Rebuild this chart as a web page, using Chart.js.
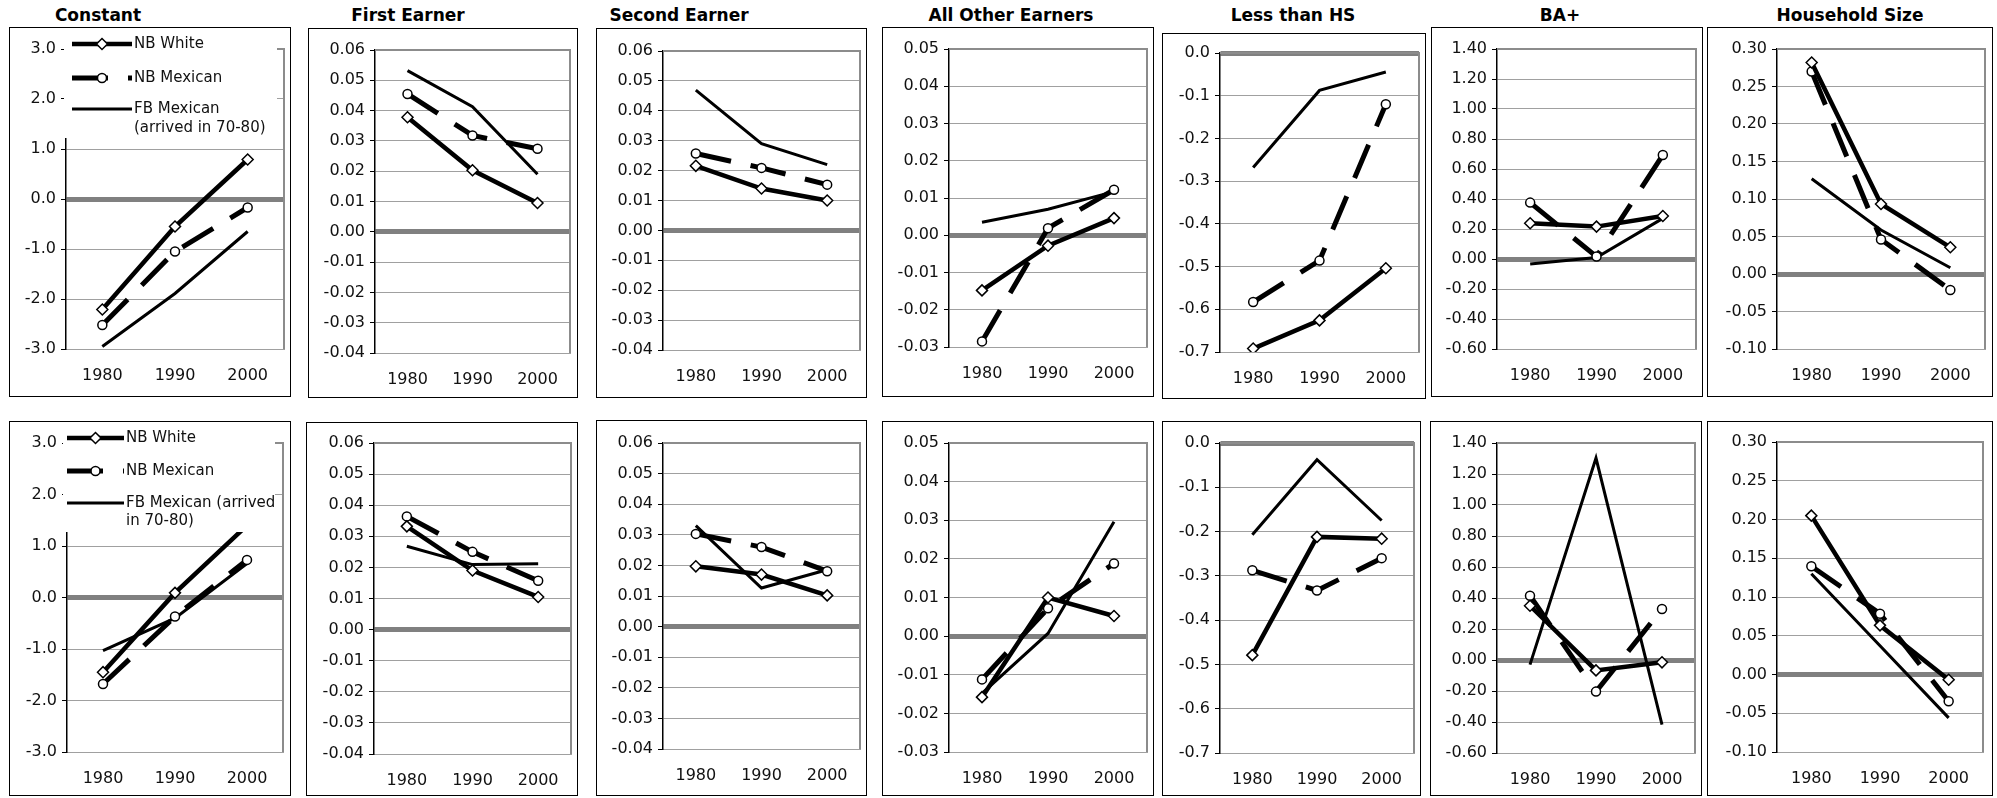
<!DOCTYPE html>
<html>
<head>
<meta charset="utf-8">
<script src="https://cdn.jsdelivr.net/npm/chart.js@4.4.1/dist/chart.umd.min.js"></script>
<style>
body { margin: 0; background: #fff; width: 1997px; height: 798px; position: relative; overflow: hidden; font-family: 'DejaVu Sans', sans-serif; }
.box { position: absolute; border: 1.5px solid #000; box-sizing: border-box; pointer-events: none; }
canvas { position: absolute; }
.title { position: absolute; top: 5px; font-weight: bold; font-size: 17px; white-space: nowrap; transform: translateX(-50%); color: #000; }
</style>
</head>
<body>
<script>
// ================= DATA =================
const years = ['1980', '1990', '2000'];
const panelTitles = ['Constant', 'First Earner', 'Second Earner', 'All Other Earners', 'Less than HS', 'BA+', 'Household Size'];
const seriesNames = ['NB White', 'NB Mexican', 'FB Mexican (arrived in 70-80)'];

// y axis range per column (same for both rows)
const yMin = [-3, -0.04, -0.04, -0.03, -0.7, -0.6, -0.1];
const yMax = [3, 0.06, 0.06, 0.05, 0, 1.4, 0.3];
const yStep = [1, 0.01, 0.01, 0.01, 0.1, 0.2, 0.05];
const yDecimals = [1, 2, 2, 2, 1, 2, 2];

// top row, one [1980, 1990, 2000] triple per column
const nbWhiteTop = [[-2.21, -0.55, 0.79], [0.0378, 0.0203, 0.0095], [0.0216, 0.014, 0.010], [-0.0148, -0.0028, 0.0046], [-0.692, -0.626, -0.504], [0.238, 0.216, 0.287], [0.282, 0.0933, 0.0356]];
const nbMexicanTop = [[-2.52, -1.05, -0.17], [0.0455, 0.0318, 0.0274], [0.0257, 0.0209, 0.0153], [-0.0285, 0.0019, 0.0122], [-0.583, -0.486, -0.12], [0.376, 0.016, 0.693], [0.27, 0.046, -0.0213]];
const fbMexicanTop = [[-2.95, -1.89, -0.65], [0.0532, 0.0413, 0.019], [0.0469, 0.029, 0.022], [0.0035, 0.007, 0.0117], [-0.268, -0.0876, -0.0446], [-0.033, 0.01, 0.271], [0.127, 0.0587, 0.0084]];

// bottom row
const nbWhiteBottom = [[-1.45, 0.09, 1.40], [0.0332, 0.019, 0.0105], [0.0197, 0.017, 0.0102], [-0.0158, 0.010, 0.0052], [-0.479, -0.212, -0.216], [0.35, -0.067, -0.015], [0.205, 0.0634, -0.0067]];
const nbMexicanBottom = [[-1.68, -0.37, 0.73], [0.0364, 0.025, 0.0157], [0.0303, 0.026, 0.0181], [-0.0112, 0.0072, 0.0188], [-0.2875, -0.333, -0.26], [0.415, -0.204, 0.329], [0.1396, 0.0785, -0.0346]];
const fbMexicanBottom = [[-1.03, -0.40, 0.66], [0.0268, 0.0209, 0.0212], [0.033, 0.0126, 0.0186], [-0.0148, 0.0007, 0.0296], [-0.207, -0.0376, -0.175], [-0.03, 1.303, -0.417], [0.13, 0.037, -0.056]];

// ================= LAYOUT (page pixels: left, top, right, bottom) =================
const titleCenters = [98, 408, 679, 1011, 1293, 1560, 1850];
const boxesTop = [[9, 27, 291, 397], [308, 28, 578, 398], [596, 28, 867, 398], [882, 27, 1154, 397], [1162, 33, 1426, 399], [1431, 27, 1703, 397], [1707, 27, 1993, 397]];
const plotsTop = [[66, 49, 285, 349], [375, 50, 570, 353], [663, 51, 861, 350], [949, 49, 1148, 347], [1220, 53, 1419, 352], [1497, 49, 1696, 349], [1777, 49, 1985, 349]];
const boxesBottom = [[9, 421, 291, 796], [306, 422, 578, 796], [596, 420, 867, 796], [882, 421, 1154, 796], [1162, 421, 1421, 796], [1430, 421, 1702, 796], [1707, 421, 1993, 796]];
const plotsBottom = [[67, 443, 283, 752], [374, 443, 572, 754], [663, 443, 861, 749], [949, 443, 1148, 752], [1220, 443, 1415, 753], [1497, 443, 1696, 753], [1777, 442, 1983, 752]];
const X_AXIS_H = 40;

// legend boxes sit inside the "Constant" panels
const legendTop = { rect: [64, 38, 277, 138], sampleX: [72, 132], textX: 134, rowsY: [44, 78, 109], lineGap: 19, wrapWidth: 142 };
const legendBottom = { rect: [63, 428, 275, 532], sampleX: [67, 124], textX: 126, rowsY: [438, 471, 503], lineGap: 18, wrapWidth: 156 };

// series look (Excel style)
const seriesStyles = [
    { width: 4.5, dash: [], marker: 'diamond' },
    { width: 5, dash: [36, 20], marker: 'circle' },
    { width: 3, dash: [], marker: null }
];

Chart.defaults.font.family = "'DejaVu Sans', sans-serif";
Chart.defaults.font.size = 16;
Chart.defaults.color = '#111';

const isZero = v => Math.abs(v) < 1e-9;

function drawMarker(ctx, type, x, y) {
    ctx.save();
    ctx.setLineDash([]);
    ctx.fillStyle = '#fff';
    ctx.strokeStyle = '#000';
    ctx.lineWidth = 1.5;
    ctx.beginPath();
    if (type === 'circle') {
        ctx.arc(x, y, 4.5, 0, Math.PI * 2);
    } else {
        ctx.moveTo(x, y - 5.5); ctx.lineTo(x + 5.5, y); ctx.lineTo(x, y + 5.5); ctx.lineTo(x - 5.5, y); ctx.closePath();
    }
    ctx.fill();
    ctx.stroke();
    ctx.restore();
}

function wrapText(ctx, text, maxW) {
    const words = text.split(' ');
    const lines = [];
    let cur = '';
    words.forEach(w => {
        const test = cur ? cur + ' ' + w : w;
        if (cur && ctx.measureText(test).width > maxW) { lines.push(cur); cur = w; }
        else cur = test;
    });
    if (cur) lines.push(cur);
    return lines;
}

// top + right border of the plot area, grey like Excel
const plotFramePlugin = {
    id: 'plotFrame',
    beforeDatasetsDraw(chart) {
        const { ctx, chartArea: a } = chart;
        ctx.save();
        ctx.strokeStyle = '#8c8c8c';
        ctx.lineWidth = 2;
        ctx.beginPath();
        ctx.moveTo(a.left, a.top); ctx.lineTo(a.right, a.top); ctx.lineTo(a.right, a.bottom);
        ctx.stroke();
        ctx.restore();
    }
};

function makeLegendPlugin(cfg, box) {
    return {
        id: 'boxLegend',
        afterDraw(chart) {
            const ctx = chart.ctx;
            ctx.save();
            ctx.translate(-box[0], -box[1]);
            const r = cfg.rect;
            ctx.fillStyle = '#fff';
            ctx.fillRect(r[0], r[1], r[2] - r[0], r[3] - r[1]);
            ctx.font = "15px 'DejaVu Sans'";
            ctx.textBaseline = 'middle';
            seriesNames.forEach((name, i) => {
                const st = seriesStyles[i];
                const y = cfg.rowsY[i];
                ctx.strokeStyle = '#000';
                ctx.lineWidth = st.width;
                ctx.lineCap = 'butt';
                ctx.setLineDash(st.dash);
                ctx.beginPath();
                ctx.moveTo(cfg.sampleX[0], y);
                ctx.lineTo(cfg.sampleX[1], y);
                ctx.stroke();
                ctx.setLineDash([]);
                if (st.marker) drawMarker(ctx, st.marker, (cfg.sampleX[0] + cfg.sampleX[1]) / 2, y);
                ctx.fillStyle = '#111';
                wrapText(ctx, name, cfg.wrapWidth).forEach((ln, k) => {
                    ctx.fillText(ln, cfg.textX, y + k * cfg.lineGap);
                });
            });
            ctx.restore();
        }
    };
}

function makePanel(col, box, plot, series, legendCfg) {
    const canvas = document.createElement('canvas');
    const w = box[2] - box[0], h = box[3] - box[1];
    canvas.width = w; canvas.height = h;
    canvas.style.left = box[0] + 'px'; canvas.style.top = box[1] + 'px';
    canvas.style.width = w + 'px'; canvas.style.height = h + 'px';
    document.body.appendChild(canvas);

    const frame = document.createElement('div');
    frame.className = 'box';
    frame.style.left = box[0] + 'px'; frame.style.top = box[1] + 'px';
    frame.style.width = w + 'px'; frame.style.height = h + 'px';
    document.body.appendChild(frame);

    const datasets = series.map((data, i) => {
        const st = seriesStyles[i];
        return {
            label: seriesNames[i],
            data: data,
            borderColor: '#000',
            borderWidth: st.width,
            borderDash: st.dash,
            borderCapStyle: 'butt',
            borderJoinStyle: 'miter',
            pointStyle: st.marker === 'diamond' ? 'rectRot' : 'circle',
            pointRadius: st.marker === 'diamond' ? 5.5 : (st.marker ? 4.5 : 0),
            pointBackgroundColor: '#fff',
            pointBorderColor: '#000',
            pointBorderWidth: 1.5,
            tension: 0
        };
    });

    const plugins = [plotFramePlugin];
    if (legendCfg) plugins.push(makeLegendPlugin(legendCfg, box));

    new Chart(canvas, {
        type: 'line',
        data: { labels: years, datasets: datasets },
        plugins: plugins,
        options: {
            responsive: false,
            animation: false,
            layout: {
                padding: {
                    left: 0,
                    top: plot[1] - box[1],
                    right: box[2] - plot[2],
                    bottom: (box[3] - plot[3]) - X_AXIS_H
                }
            },
            plugins: { legend: { display: false }, tooltip: { enabled: false } },
            scales: {
                x: {
                    type: 'category',
                    offset: true,
                    afterFit: s => { s.height = X_AXIS_H; },
                    grid: { display: false, drawTicks: false },
                    border: { display: true, color: '#a0a0a0', width: 1 },
                    ticks: { padding: 17, maxRotation: 0, autoSkip: false }
                },
                y: {
                    min: yMin[col],
                    max: yMax[col],
                    afterFit: s => { s.width = plot[0] - box[0]; },
                    ticks: {
                        stepSize: yStep[col],
                        padding: 5,
                        callback: v => (isZero(v) ? 0 : v).toFixed(yDecimals[col])
                    },
                    grid: {
                        color: c => isZero(c.tick.value) ? '#808080' : '#a0a0a0',
                        lineWidth: c => isZero(c.tick.value) ? 5 : 1,
                        drawTicks: true,
                        tickLength: 5,
                        tickColor: '#000',
                        tickWidth: 1
                    },
                    border: { display: true, color: '#000', width: 1.5 }
                }
            }
        }
    });
}

// ================= BUILD =================
panelTitles.forEach((t, i) => {
    const d = document.createElement('div');
    d.className = 'title';
    d.style.left = titleCenters[i] + 'px';
    d.textContent = t;
    document.body.appendChild(d);
});

for (let c = 0; c < 7; c++) {
    makePanel(c, boxesTop[c], plotsTop[c], [nbWhiteTop[c], nbMexicanTop[c], fbMexicanTop[c]], c === 0 ? legendTop : null);
    makePanel(c, boxesBottom[c], plotsBottom[c], [nbWhiteBottom[c], nbMexicanBottom[c], fbMexicanBottom[c]], c === 0 ? legendBottom : null);
}
</script>
</body>
</html>
